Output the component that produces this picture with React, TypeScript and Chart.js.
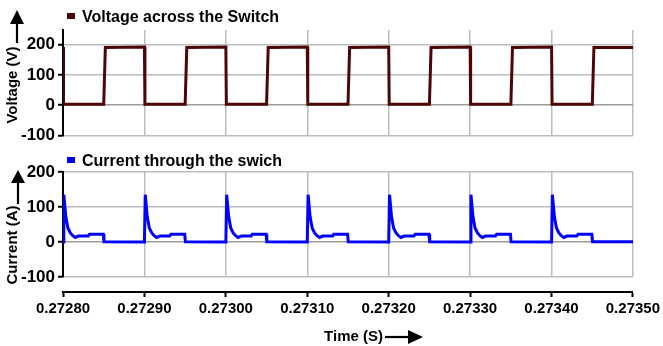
import React, { useEffect, useRef } from "react";
import { Chart, registerables } from "chart.js";

Chart.register(...registerables);

const FONT = '"Liberation Sans", Arial, sans-serif';

// Axis ticks and labels
const xTicks = [0.2728, 0.2729, 0.273, 0.2731, 0.2732, 0.2733, 0.2734, 0.2735];
const xTickLabels = ["0.27280", "0.27290", "0.27300", "0.27310", "0.27320", "0.27330", "0.27340", "0.27350"];
const yTicks = [-100, 0, 100, 200];
const yTickLabels = ["-100", "0", "100", "200"];

// Switching cycles (start time of each period, in seconds)
const cycleStarts = [0.2728, 0.2729, 0.273, 0.2731, 0.2732, 0.2733, 0.2734];
const cycleEnd = 0.2735;

// Voltage across the switch within one cycle (offset in µs, value in V)
const voltageOffsetsUs = [0, 0.6, 50, 52];
const voltageValues = [192, 3, 3, 190];
const voltageEndValue = 190;

// Current through the switch within one cycle (offset in µs, value in A)
const currentOffsetsUs = [0, 1, 3.5, 6, 9, 12, 15, 19, 31, 32.5, 49.5, 50.3];
const currentValues = [0, 135, 72, 40, 26, 18, 13, 17, 17, 22, 22, 1];
const currentEndValue = 1;

const voltageLabel = "Voltage across the Switch";
const currentLabel = "Current through the swich";
const voltageColor = "#4d0606";
const currentColor = "#0000ff";

function buildSeries(offsets: number[], values: number[], endValue: number) {
  const pts: { x: number; y: number }[] = [];
  for (const s of cycleStarts) {
    for (let i = 0; i < offsets.length; i++) {
      pts.push({ x: s + offsets[i] * 1e-6, y: values[i] });
    }
  }
  pts.push({ x: cycleEnd, y: endValue });
  return pts;
}

const GRID = "#bcbcbc";

function yScale(min: number, max: number) {
  return {
    type: "linear",
    position: "left",
    min,
    max,
    afterBuildTicks: (s: any) => {
      s.ticks = yTicks.map((v) => ({ value: v }));
    },
    afterFit: (s: any) => {
      s.width = 63;
    },
    ticks: {
      color: "#000",
      padding: 3,
      font: { family: FONT, size: 17, weight: "bold" },
      callback: (v: any, i: number) => yTickLabels[i] ?? "",
    },
    grid: {
      color: (c: any) => (c.tick && c.tick.value === 0 ? "#9a9a9a" : GRID),
      lineWidth: 1.5,
      tickColor: "#000",
      tickLength: 5,
      tickWidth: 2,
    },
    border: { color: "#000", width: 2 },
  };
}

function xGridScale() {
  return {
    type: "linear",
    min: xTicks[0],
    max: xTicks[xTicks.length - 1],
    afterBuildTicks: (s: any) => {
      s.ticks = xTicks.map((v) => ({ value: v }));
    },
    afterFit: (s: any) => {
      s.height = 0;
    },
    ticks: { display: false },
    grid: { color: GRID, lineWidth: 1.5, drawTicks: false },
    border: { display: false },
  };
}

function drawUpArrow(ctx: CanvasRenderingContext2D, x: number, tipY: number, baseY: number, endY: number) {
  ctx.fillStyle = "#000";
  ctx.strokeStyle = "#000";
  ctx.lineWidth = 2.2;
  ctx.beginPath();
  ctx.moveTo(x, baseY - 1);
  ctx.lineTo(x, endY);
  ctx.stroke();
  ctx.beginPath();
  ctx.moveTo(x, tipY);
  ctx.lineTo(x - 7, baseY);
  ctx.lineTo(x + 7, baseY);
  ctx.closePath();
  ctx.fill();
}

function drawRotatedText(ctx: CanvasRenderingContext2D, text: string, x: number, y: number) {
  ctx.save();
  ctx.translate(x, y);
  ctx.rotate(-Math.PI / 2);
  ctx.fillStyle = "#000";
  ctx.font = `bold 15px ${FONT}`;
  ctx.textAlign = "center";
  ctx.textBaseline = "middle";
  ctx.fillText(text, 0, 0);
  ctx.restore();
}

function drawLegend(ctx: CanvasRenderingContext2D, text: string, color: string, markerY: number, baseline: number) {
  ctx.fillStyle = color;
  ctx.fillRect(67, markerY, 8, 6);
  ctx.fillStyle = "#000";
  ctx.font = `bold 16px ${FONT}`;
  ctx.textAlign = "left";
  ctx.textBaseline = "alphabetic";
  ctx.fillText(text, 82, baseline);
}

const annoTop = {
  id: "annoTop",
  afterDraw(chart: any) {
    const ctx = chart.ctx as CanvasRenderingContext2D;
    ctx.save();
    drawLegend(ctx, voltageLabel, voltageColor, 13, 22);
    drawUpArrow(ctx, 17, 10, 24, 43);
    drawRotatedText(ctx, "Voltage (V)", 13, 85);
    ctx.restore();
  },
};

const annoBottom = {
  id: "annoBottom",
  afterDraw(chart: any) {
    const ctx = chart.ctx as CanvasRenderingContext2D;
    ctx.save();
    drawLegend(ctx, currentLabel, currentColor, 157, 166);
    drawUpArrow(ctx, 18, 170, 183, 204);
    drawRotatedText(ctx, "Current (A)", 13, 245);
    ctx.restore();
  },
};

const annoAxis = {
  id: "annoAxis",
  afterDraw(chart: any) {
    const ctx = chart.ctx as CanvasRenderingContext2D;
    ctx.save();
    ctx.fillStyle = "#000";
    ctx.font = `bold 15px ${FONT}`;
    ctx.textAlign = "right";
    ctx.textBaseline = "middle";
    ctx.fillText("Time (S)", 383, 337);
    ctx.strokeStyle = "#000";
    ctx.lineWidth = 2.2;
    ctx.beginPath();
    ctx.moveTo(385, 337);
    ctx.lineTo(410, 337);
    ctx.stroke();
    ctx.beginPath();
    ctx.moveTo(423, 337);
    ctx.lineTo(408, 330);
    ctx.lineTo(408, 344);
    ctx.closePath();
    ctx.fill();
    ctx.restore();
  },
};

function lineChartConfig(data: { x: number; y: number }[], color: string, yMin: number, yMax: number, top: number, bottom: number, plugin: any) {
  return {
    type: "line",
    data: {
      datasets: [
        {
          data,
          borderColor: color,
          backgroundColor: color,
          borderWidth: 3,
          pointRadius: 0,
          tension: 0,
          fill: false,
        },
      ],
    },
    options: {
      responsive: false,
      animation: false,
      devicePixelRatio: 1,
      events: [],
      layout: { padding: { top, bottom: 346 - bottom, left: 0, right: 30 } },
      plugins: { legend: { display: false }, tooltip: { enabled: false }, title: { display: false } },
      scales: { x: xGridScale(), y: yScale(yMin, yMax) },
    },
    plugins: [plugin],
  };
}

export default function App() {
  const r1 = useRef<HTMLCanvasElement>(null);
  const r2 = useRef<HTMLCanvasElement>(null);
  const r3 = useRef<HTMLCanvasElement>(null);

  useEffect(() => {
    const voltage = buildSeries(voltageOffsetsUs, voltageValues, voltageEndValue);
    const current = buildSeries(currentOffsetsUs, currentValues, currentEndValue);

    const c1 = new Chart(r1.current as HTMLCanvasElement, lineChartConfig(voltage, voltageColor, -100, 248, 30, 135.5, annoTop) as any);
    const c2 = new Chart(r2.current as HTMLCanvasElement, lineChartConfig(current, currentColor, -100, 200, 172, 277, annoBottom) as any);
    const c3 = new Chart(r3.current as HTMLCanvasElement, {
      type: "line",
      data: { datasets: [] },
      options: {
        responsive: false,
        animation: false,
        devicePixelRatio: 1,
        events: [],
        layout: { padding: { top: 291, bottom: 0, left: 63, right: 30 } },
        plugins: { legend: { display: false }, tooltip: { enabled: false } },
        scales: {
          x: {
            type: "linear",
            position: "bottom",
            min: xTicks[0],
            max: xTicks[xTicks.length - 1],
            afterBuildTicks: (s: any) => {
              s.ticks = xTicks.map((v) => ({ value: v }));
            },
            afterFit: (s: any) => {
              s.height = 54;
            },
            ticks: {
              autoSkip: false,
              maxRotation: 0,
              minRotation: 0,
              color: "#000",
              padding: 3,
              font: { family: FONT, size: 15, weight: "bold" },
              callback: (v: any, i: number) => xTickLabels[i] ?? "",
            },
            grid: { drawOnChartArea: false, color: "#000", tickColor: "#000", tickLength: 5, tickWidth: 2 },
            border: { color: "#000", width: 2 },
          },
          y: { display: false, min: 0, max: 1 },
        },
      },
      plugins: [annoAxis],
    } as any);

    return () => {
      c1.destroy();
      c2.destroy();
      c3.destroy();
    };
  }, []);

  const cs: React.CSSProperties = { position: "absolute", left: 0, top: 0, width: 663, height: 346 };
  return (
    <div style={{ position: "absolute", left: 0, top: 0, width: 663, height: 346, background: "#fff" }}>
      <canvas ref={r1} width={663} height={346} style={cs} />
      <canvas ref={r2} width={663} height={346} style={cs} />
      <canvas ref={r3} width={663} height={346} style={cs} />
    </div>
  );
}
